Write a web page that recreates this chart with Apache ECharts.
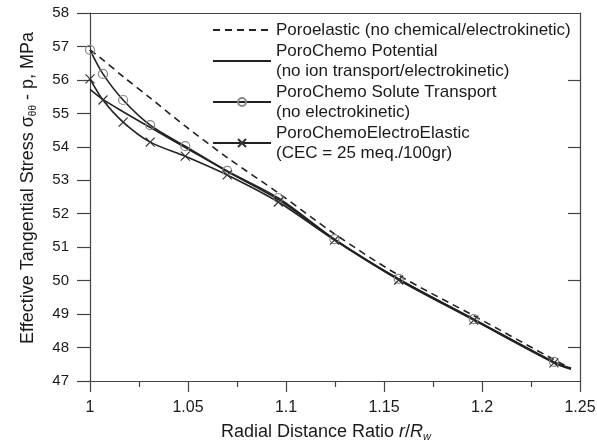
<!DOCTYPE html>
<html>
<head>
<meta charset="utf-8">
<script src="https://cdn.jsdelivr.net/npm/echarts@6/dist/echarts.min.js"></script>
<style>html,body{margin:0;padding:0;background:#fff}#c{width:597px;height:447px}</style>
</head>
<body>
<div id="c"></div>
<script>
// ---- data ----
const radialRatio = [1.0, 1.0066, 1.0169, 1.0307, 1.0486, 1.0700, 1.0961, 1.1247, 1.1575, 1.1958, 1.2367, 1.2454];
const poroelastic = [56.90, 56.60, 56.10, 55.46, 54.62, 53.68, 52.62, 51.40, 50.16, 48.95, 47.64, 47.38];
const potential   = [55.72, 55.42, 55.05, 54.58, 53.98, 53.26, 52.42, 51.23, 50.04, 48.84, 47.56, 47.37];
const solute      = [56.90, 56.18, 55.40, 54.65, 54.02, 53.28, 52.47, 51.24, 50.05, 48.85, 47.57, 47.38];
const electro     = [56.03, 55.40, 54.74, 54.14, 53.72, 53.16, 52.35, 51.21, 50.02, 48.82, 47.54, 47.35];
const seriesNames = [
  'Poroelastic (no chemical/electrokinetic)',
  'PoroChemo Potential\n(no ion transport/electrokinetic)',
  'PoroChemo Solute Transport\n(no electrokinetic)',
  'PoroChemoElectroElastic\n(CEC = 25 meq./100gr)'
];
const xTicks = [1, 1.05, 1.1, 1.15, 1.2, 1.25];
const yTicks = [47, 48, 49, 50, 51, 52, 53, 54, 55, 56, 57, 58];
const yRightTicks = [48, 50, 52, 54, 56];

const FONT = '"Liberation Sans", Arial, sans-serif';
const TXT = '#1a1a1a';
const AX = '#444';

function pts(ys, markLast) {
  return radialRatio.map((x, i) => {
    const item = { value: [x, ys[i]] };
    if (markLast && i === radialRatio.length - 1) item.symbol = 'none';
    return item;
  });
}

const hidden = { color: 'rgba(0,0,0,0)', borderColor: 'rgba(0,0,0,0)', borderWidth: 0 };

const chart = echarts.init(document.getElementById('c'), null, { renderer: 'canvas' });
chart.setOption({
  animation: false,
  backgroundColor: '#fff',
  textStyle: { fontFamily: FONT, color: TXT },
  grid: { left: 90, right: 17, top: 13, bottom: 66, containLabel: false, outerBoundsMode: 'none' },
  legend: {
    orient: 'vertical',
    left: 212,
    top: 20,
    padding: 0,
    itemWidth: 58,
    itemHeight: 10,
    itemGap: 1,
    textStyle: { fontFamily: FONT, fontSize: 17, color: TXT, lineHeight: 20 },
    data: seriesNames
  },
  xAxis: [{
    type: 'value',
    min: xTicks[0], max: xTicks[xTicks.length - 1], interval: 0.05,
    axisLine: { show: true, lineStyle: { color: AX, width: 1.2 } },
    axisTick: { show: true, inside: false, length: 11, lineStyle: { color: AX, width: 1.2 } },
    minorTick: { show: true, splitNumber: 2, length: 6, lineStyle: { color: AX, width: 1.2 } },
    splitLine: { show: false },
    axisLabel: {
      margin: 19, fontSize: 16, color: TXT, fontFamily: FONT,
      customValues: xTicks,
      formatter: v => String(+(+v).toFixed(2))
    },
    name: 'Radial Distance Ratio {i|r}/{i|R}{w|w}',
    nameLocation: 'middle',
    nameGap: 41,
    nameTextStyle: {
      fontSize: 18, color: TXT, fontFamily: FONT, lineHeight: 20,
      padding: [0, 18, 0, 0],
      rich: {
        i: { fontSize: 18, fontStyle: 'italic', color: TXT, fontFamily: FONT, lineHeight: 20 },
        w: { fontSize: 11, fontStyle: 'italic', color: TXT, fontFamily: FONT, lineHeight: 10, verticalAlign: 'bottom' }
      }
    }
  }, {
    type: 'value', position: 'top',
    min: xTicks[0], max: xTicks[xTicks.length - 1],
    axisLine: { show: true, lineStyle: { color: AX, width: 1.2 } },
    axisTick: { show: false }, axisLabel: { show: false }, splitLine: { show: false }
  }],
  yAxis: [{
    type: 'value',
    min: yTicks[0], max: yTicks[yTicks.length - 1], interval: 1,
    axisLine: { show: true, lineStyle: { color: AX, width: 1.2 } },
    axisTick: { show: true, inside: false, length: 13, lineStyle: { color: AX, width: 1.2 } },
    splitLine: { show: false },
    axisLabel: { margin: 21, fontSize: 15, color: TXT, fontFamily: FONT, customValues: yTicks },
    name: 'Effective Tangential Stress σ{s|θθ} - p, MPa',
    nameLocation: 'middle',
    nameGap: 52,
    nameTextStyle: {
      fontSize: 18, color: TXT, fontFamily: FONT, lineHeight: 20,
      padding: [0, 0, 0, 18],
      rich: {
        s: { fontSize: 10, color: TXT, fontFamily: FONT, lineHeight: 9, verticalAlign: 'bottom' }
      }
    }
  }, {
    type: 'value', position: 'right',
    min: yTicks[0], max: yTicks[yTicks.length - 1],
    axisLine: { show: true, lineStyle: { color: AX, width: 1.2 } },
    axisTick: { show: true, inside: true, length: 12, customValues: yRightTicks, lineStyle: { color: AX, width: 1.2 } },
    axisLabel: { show: false, customValues: yRightTicks },
    splitLine: { show: false }
  }],
  series: [{
    name: seriesNames[0], type: 'line', xAxisIndex: 0, yAxisIndex: 0,
    data: pts(poroelastic, false), smooth: 0.3,
    symbol: 'circle', showSymbol: false, symbolSize: 1,
    color: '#222', itemStyle: hidden,
    lineStyle: { color: '#222', width: 1.6, type: [7, 5] }
  }, {
    name: seriesNames[1], type: 'line', xAxisIndex: 0, yAxisIndex: 0,
    data: pts(potential, false), smooth: 0.3,
    symbol: 'circle', showSymbol: false, symbolSize: 1,
    color: '#222', itemStyle: hidden,
    lineStyle: { color: '#222', width: 1.6 }
  }, {
    name: seriesNames[2], type: 'line', xAxisIndex: 0, yAxisIndex: 0,
    data: pts(solute, true), smooth: 0.3,
    symbol: 'circle', symbolSize: 9, showSymbol: true,
    color: '#222',
    lineStyle: { color: '#222', width: 1.6 },
    itemStyle: { color: 'rgba(0,0,0,0)', borderColor: '#888', borderWidth: 1.2 }
  }, {
    name: seriesNames[3], type: 'line', xAxisIndex: 0, yAxisIndex: 0,
    data: pts(electro, true), smooth: 0.3,
    symbol: 'path://M0,0L10,10M0,10L10,0', symbolSize: 9, showSymbol: true,
    color: '#222',
    lineStyle: { color: '#222', width: 1.6 },
    itemStyle: { color: 'rgba(0,0,0,0)', borderColor: '#333', borderWidth: 1.2 }
  }]
});
</script>
</body>
</html>
